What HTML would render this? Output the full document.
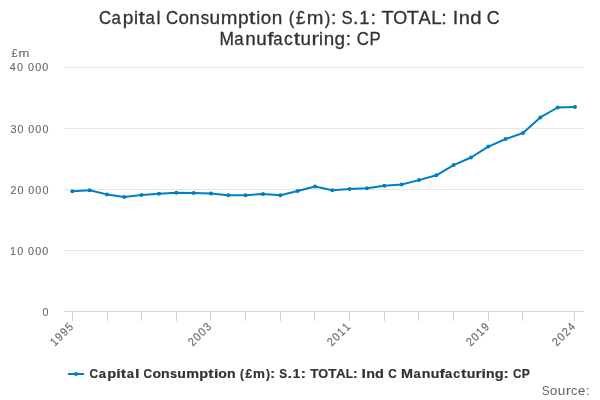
<!DOCTYPE html>
<html>
<head>
<meta charset="utf-8">
<style>
html,body{margin:0;padding:0;background:#fff;width:600px;height:400px;overflow:hidden;}
svg{display:block;font-family:"Liberation Sans",sans-serif;will-change:transform;}
</style>
</head>
<body>
<svg width="600" height="400" viewBox="0 0 600 400">
<g font-size="18.3" fill="#333333" stroke="#333333" stroke-width="0.3"><text transform="translate(99.11 24.0) scale(0.920 1)">C</text><text transform="translate(111.55 24.0) scale(0.920 1)">a</text><text transform="translate(122.64 24.0) scale(1.050 1)">p</text><text transform="translate(133.94 24.0) scale(0.987 1)">i</text><text transform="translate(138.62 24.0) scale(1.250 1)">t</text><text transform="translate(145.42 24.0) scale(0.920 1)">a</text><text transform="translate(156.60 24.0) scale(0.987 1)">l</text></g>
<g font-size="18.3" fill="#333333" stroke="#333333" stroke-width="0.3"><text transform="translate(165.89 24.0) scale(0.920 1)">C</text><text transform="translate(178.40 24.0) scale(1.023 1)">o</text><text transform="translate(189.33 24.0) scale(1.038 1)">n</text><text transform="translate(200.64 24.0) scale(0.923 1)">s</text><text transform="translate(209.60 24.0) scale(1.038 1)">u</text><text transform="translate(220.77 24.0) scale(1.097 1)">m</text><text transform="translate(238.03 24.0) scale(1.047 1)">p</text><text transform="translate(249.06 24.0) scale(1.250 1)">t</text><text transform="translate(256.21 24.0) scale(0.984 1)">i</text><text transform="translate(260.84 24.0) scale(1.023 1)">o</text><text transform="translate(271.77 24.0) scale(1.038 1)">n</text></g>
<g font-size="18.3" fill="#333333" stroke="#333333" stroke-width="0.3"><text transform="translate(288.70 24.0) scale(0.920 1)">(</text><text transform="translate(295.97 24.0) scale(0.920 1)">£</text><text transform="translate(306.84 24.0) scale(1.097 1)">m</text><text transform="translate(324.80 24.0) scale(0.920 1)">)</text><text transform="translate(330.94 24.0) scale(1.042 1)">:</text></g>
<g font-size="18.3" fill="#333333" stroke="#333333" stroke-width="0.3"><text transform="translate(341.56 24.0) scale(0.920 1)">S</text><text transform="translate(352.99 24.0) scale(1.075 1)">.</text><text transform="translate(359.23 24.0) scale(1.000 1)">1</text><text transform="translate(370.53 24.0) scale(1.075 1)">:</text></g>
<g font-size="18.3" fill="#333333" stroke="#333333" stroke-width="0.3"><text transform="translate(381.45 24.0) scale(1.083 1)">T</text><text transform="translate(393.22 24.0) scale(0.981 1)">O</text><text transform="translate(406.85 24.0) scale(1.083 1)">T</text><text transform="translate(418.56 24.0) scale(1.000 1)">A</text><text transform="translate(431.13 24.0) scale(1.021 1)">L</text><text transform="translate(441.33 24.0) scale(1.074 1)">:</text></g>
<g font-size="18.3" fill="#333333" stroke="#333333" stroke-width="0.3"><text transform="translate(452.78 24.0) scale(1.081 1)">I</text><text transform="translate(458.64 24.0) scale(1.102 1)">n</text><text transform="translate(470.31 24.0) scale(1.110 1)">d</text></g>
<g font-size="18.3" fill="#333333" stroke="#333333" stroke-width="0.3"><text transform="translate(486.79 24.0) scale(0.975 1)">C</text></g>
<g font-size="18.3" fill="#333333" stroke="#333333" stroke-width="0.3"><text transform="translate(219.57 45.0) scale(0.949 1)">M</text><text transform="translate(234.35 45.0) scale(0.920 1)">a</text><text transform="translate(245.34 45.0) scale(1.027 1)">n</text><text transform="translate(256.30 45.0) scale(1.027 1)">u</text><text transform="translate(267.16 45.0) scale(1.250 1)">f</text><text transform="translate(273.25 45.0) scale(0.920 1)">a</text><text transform="translate(284.12 45.0) scale(0.955 1)">c</text><text transform="translate(293.65 45.0) scale(1.250 1)">t</text><text transform="translate(300.57 45.0) scale(1.027 1)">u</text><text transform="translate(311.45 45.0) scale(1.220 1)">r</text><text transform="translate(318.97 45.0) scale(0.973 1)">i</text><text transform="translate(323.69 45.0) scale(1.027 1)">n</text><text transform="translate(334.57 45.0) scale(1.035 1)">g</text><text transform="translate(345.78 45.0) scale(1.030 1)">:</text></g>
<g font-size="18.3" fill="#333333" stroke="#333333" stroke-width="0.3"><text transform="translate(356.83 45.0) scale(0.920 1)">C</text><text transform="translate(369.48 45.0) scale(0.920 1)">P</text></g>
<path d="M64 67.5H584M64 128.5H584M64 189.5H584M64 250.5H584" stroke="#e6e6e6" stroke-width="1" fill="none"/>
<path d="M64 311.5H584M72.5 311V321M107.5 311V321M141.5 311V321M176.5 311V321M210.5 311V321M245.5 311V321M280.5 311V321M314.5 311V321M349.5 311V321M384.5 311V321M418.5 311V321M453.5 311V321M488.5 311V321M522.5 311V321M574.5 311V321" stroke="#ccd6eb" stroke-width="1" fill="none"/>
<g font-size="11.7" fill="#666666" stroke="#666666" stroke-width="0.1"><text transform="translate(9.86 70.7) scale(0.920 1)">4</text><text transform="translate(17.08 70.7) scale(0.920 1)">0</text><text transform="translate(27.91 70.7) scale(0.920 1)">0</text><text transform="translate(35.13 70.7) scale(0.920 1)">0</text><text transform="translate(42.35 70.7) scale(0.920 1)">0</text></g>
<g font-size="11.7" fill="#666666" stroke="#666666" stroke-width="0.1"><text transform="translate(10.51 132.7) scale(0.920 1)">3</text><text transform="translate(17.59 132.7) scale(0.920 1)">0</text><text transform="translate(28.22 132.7) scale(0.920 1)">0</text><text transform="translate(35.31 132.7) scale(0.920 1)">0</text><text transform="translate(42.40 132.7) scale(0.920 1)">0</text></g>
<g font-size="11.7" fill="#666666" stroke="#666666" stroke-width="0.1"><text transform="translate(10.38 193.9) scale(0.920 1)">2</text><text transform="translate(17.61 193.9) scale(0.920 1)">0</text><text transform="translate(28.24 193.9) scale(0.920 1)">0</text><text transform="translate(35.32 193.9) scale(0.920 1)">0</text><text transform="translate(42.40 193.9) scale(0.920 1)">0</text></g>
<g font-size="11.7" fill="#666666" stroke="#666666" stroke-width="0.1"><text transform="translate(10.10 254.9) scale(0.920 1)">1</text><text transform="translate(17.31 254.9) scale(0.920 1)">0</text><text transform="translate(28.05 254.9) scale(0.920 1)">0</text><text transform="translate(35.21 254.9) scale(0.920 1)">0</text><text transform="translate(42.37 254.9) scale(0.920 1)">0</text></g>
<g font-size="11.7" fill="#666666" stroke="#666666" stroke-width="0.1"><text transform="translate(42.61 316.0) scale(0.920 1)">0</text></g>
<g font-size="11.7" fill="#666666" stroke="#666666" stroke-width="0.1"><text transform="translate(11.49 57.0) scale(0.927 1)">£</text><text transform="translate(18.52 57.0) scale(1.112 1)">m</text></g>
<g transform="rotate(-45 74.30 327.2)"><g font-size="11.7" fill="#666666" stroke="#666666" stroke-width="0.1"><text transform="translate(46.76 327.2) scale(0.920 1)">1</text><text transform="translate(53.77 327.2) scale(0.920 1)">9</text><text transform="translate(60.77 327.2) scale(0.920 1)">9</text><text transform="translate(67.76 327.2) scale(0.920 1)">5</text></g></g>
<g transform="rotate(-45 212.30 327.2)"><g font-size="11.7" fill="#666666" stroke="#666666" stroke-width="0.1"><text transform="translate(184.66 327.2) scale(0.920 1)">2</text><text transform="translate(191.81 327.2) scale(0.920 1)">0</text><text transform="translate(198.81 327.2) scale(0.920 1)">0</text><text transform="translate(205.82 327.2) scale(0.920 1)">3</text></g></g>
<g transform="rotate(-45 351.30 327.2)"><g font-size="11.7" fill="#666666" stroke="#666666" stroke-width="0.1"><text transform="translate(323.66 327.2) scale(0.920 1)">2</text><text transform="translate(330.81 327.2) scale(0.920 1)">0</text><text transform="translate(337.76 327.2) scale(0.920 1)">1</text><text transform="translate(344.76 327.2) scale(0.920 1)">1</text></g></g>
<g transform="rotate(-45 490.30 327.2)"><g font-size="11.7" fill="#666666" stroke="#666666" stroke-width="0.1"><text transform="translate(462.66 327.2) scale(0.920 1)">2</text><text transform="translate(469.81 327.2) scale(0.920 1)">0</text><text transform="translate(476.76 327.2) scale(0.920 1)">1</text><text transform="translate(483.77 327.2) scale(0.920 1)">9</text></g></g>
<g transform="rotate(-45 576.30 327.2)"><g font-size="11.7" fill="#666666" stroke="#666666" stroke-width="0.1"><text transform="translate(548.66 327.2) scale(0.920 1)">2</text><text transform="translate(555.81 327.2) scale(0.920 1)">0</text><text transform="translate(562.66 327.2) scale(0.920 1)">2</text><text transform="translate(569.80 327.2) scale(0.920 1)">4</text></g></g>
<polyline fill="none" stroke="#007dc3" stroke-width="2" stroke-linejoin="round" stroke-linecap="round" points="72.32,191.3 89.65,190.3 106.98,194.4 124.32,196.9 141.65,195.0 158.98,193.7 176.32,192.8 193.65,192.9 210.98,193.4 228.32,195.3 245.65,195.2 262.98,194.0 280.32,195.2 297.65,191.0 314.98,186.5 332.32,190.2 349.65,189.1 366.98,188.3 384.32,185.8 401.65,184.5 418.98,180.1 436.32,175.3 453.65,165.1 470.98,157.5 488.32,146.6 505.65,139.0 522.98,133.0 540.32,117.4 557.65,107.5 574.98,107.1"/>
<g fill="#007dc3"><circle cx="72.32" cy="191.3" r="2"/><circle cx="89.65" cy="190.3" r="2"/><circle cx="106.98" cy="194.4" r="2"/><circle cx="124.32" cy="196.9" r="2"/><circle cx="141.65" cy="195.0" r="2"/><circle cx="158.98" cy="193.7" r="2"/><circle cx="176.32" cy="192.8" r="2"/><circle cx="193.65" cy="192.9" r="2"/><circle cx="210.98" cy="193.4" r="2"/><circle cx="228.32" cy="195.3" r="2"/><circle cx="245.65" cy="195.2" r="2"/><circle cx="262.98" cy="194.0" r="2"/><circle cx="280.32" cy="195.2" r="2"/><circle cx="297.65" cy="191.0" r="2"/><circle cx="314.98" cy="186.5" r="2"/><circle cx="332.32" cy="190.2" r="2"/><circle cx="349.65" cy="189.1" r="2"/><circle cx="366.98" cy="188.3" r="2"/><circle cx="384.32" cy="185.8" r="2"/><circle cx="401.65" cy="184.5" r="2"/><circle cx="418.98" cy="180.1" r="2"/><circle cx="436.32" cy="175.3" r="2"/><circle cx="453.65" cy="165.1" r="2"/><circle cx="470.98" cy="157.5" r="2"/><circle cx="488.32" cy="146.6" r="2"/><circle cx="505.65" cy="139.0" r="2"/><circle cx="522.98" cy="133.0" r="2"/><circle cx="540.32" cy="117.4" r="2"/><circle cx="557.65" cy="107.5" r="2"/><circle cx="574.98" cy="107.1" r="2"/></g>
<path d="M68 374H84" stroke="#007dc3" stroke-width="2"/>
<circle cx="76" cy="374" r="2" fill="#007dc3"/>
<g font-size="12.8" font-weight="bold" fill="#333333" stroke="#333333" stroke-width="0.2"><text transform="translate(89.61 378.0) scale(0.933 1)">C</text><text transform="translate(98.87 378.0) scale(1.020 1)">a</text><text transform="translate(107.30 378.0) scale(1.145 1)">p</text><text transform="translate(116.16 378.0) scale(1.250 1)">i</text><text transform="translate(120.81 378.0) scale(1.250 1)">t</text><text transform="translate(126.71 378.0) scale(1.020 1)">a</text><text transform="translate(134.98 378.0) scale(1.250 1)">l</text></g>
<g font-size="12.8" font-weight="bold" fill="#333333" stroke="#333333" stroke-width="0.2"><text transform="translate(143.42 378.0) scale(0.923 1)">C</text><text transform="translate(152.41 378.0) scale(1.098 1)">o</text><text transform="translate(161.09 378.0) scale(1.108 1)">n</text><text transform="translate(170.04 378.0) scale(1.006 1)">s</text><text transform="translate(177.35 378.0) scale(1.108 1)">u</text><text transform="translate(186.21 378.0) scale(1.125 1)">m</text><text transform="translate(199.20 378.0) scale(1.133 1)">p</text><text transform="translate(208.28 378.0) scale(1.250 1)">t</text><text transform="translate(213.92 378.0) scale(1.240 1)">i</text><text transform="translate(218.23 378.0) scale(1.098 1)">o</text><text transform="translate(226.92 378.0) scale(1.108 1)">n</text></g>
<g font-size="12.8" font-weight="bold" fill="#333333" stroke="#333333" stroke-width="0.2"><text transform="translate(240.00 378.0) scale(0.934 1)">(</text><text transform="translate(245.49 378.0) scale(0.933 1)">£</text><text transform="translate(253.05 378.0) scale(1.047 1)">m</text><text transform="translate(265.98 378.0) scale(0.934 1)">)</text><text transform="translate(270.26 378.0) scale(1.136 1)">:</text></g>
<g font-size="12.8" font-weight="bold" fill="#333333" stroke="#333333" stroke-width="0.2"><text transform="translate(279.35 378.0) scale(0.920 1)">S</text><text transform="translate(287.84 378.0) scale(1.190 1)">.</text><text transform="translate(292.80 378.0) scale(1.055 1)">1</text><text transform="translate(300.67 378.0) scale(1.197 1)">:</text></g>
<g font-size="12.8" font-weight="bold" fill="#333333" stroke="#333333" stroke-width="0.2"><text transform="translate(310.15 378.0) scale(1.049 1)">T</text><text transform="translate(318.34 378.0) scale(0.992 1)">O</text><text transform="translate(328.18 378.0) scale(1.049 1)">T</text><text transform="translate(336.03 378.0) scale(1.047 1)">A</text><text transform="translate(345.70 378.0) scale(0.928 1)">L</text><text transform="translate(352.81 378.0) scale(1.152 1)">:</text></g>
<g font-size="12.8" font-weight="bold" fill="#333333" stroke="#333333" stroke-width="0.2"><text transform="translate(361.56 378.0) scale(1.250 1)">I</text><text transform="translate(366.23 378.0) scale(1.117 1)">n</text><text transform="translate(375.03 378.0) scale(1.143 1)">d</text></g>
<g font-size="12.8" font-weight="bold" fill="#333333" stroke="#333333" stroke-width="0.2"><text transform="translate(388.22 378.0) scale(0.920 1)">C</text></g>
<g font-size="12.8" font-weight="bold" fill="#333333" stroke="#333333" stroke-width="0.2"><text transform="translate(401.03 378.0) scale(1.130 1)">M</text><text transform="translate(413.42 378.0) scale(1.011 1)">a</text><text transform="translate(421.79 378.0) scale(1.109 1)">n</text><text transform="translate(430.64 378.0) scale(1.109 1)">u</text><text transform="translate(439.49 378.0) scale(1.250 1)">f</text><text transform="translate(445.01 378.0) scale(1.011 1)">a</text><text transform="translate(453.32 378.0) scale(0.964 1)">c</text><text transform="translate(460.91 378.0) scale(1.250 1)">t</text><text transform="translate(466.71 378.0) scale(1.109 1)">u</text><text transform="translate(475.55 378.0) scale(1.250 1)">r</text><text transform="translate(481.57 378.0) scale(1.241 1)">i</text><text transform="translate(486.02 378.0) scale(1.109 1)">n</text><text transform="translate(494.75 378.0) scale(1.137 1)">g</text><text transform="translate(503.60 378.0) scale(1.221 1)">:</text></g>
<g font-size="12.8" font-weight="bold" fill="#333333" stroke="#333333" stroke-width="0.2"><text transform="translate(512.91 378.0) scale(0.920 1)">C</text><text transform="translate(521.74 378.0) scale(0.945 1)">P</text></g>
<g font-size="12.799999999999999" fill="#666666"><text transform="translate(541.83 395.0) scale(0.920 1)">S</text><text transform="translate(549.85 395.0) scale(1.053 1)">o</text><text transform="translate(557.67 395.0) scale(1.068 1)">u</text><text transform="translate(565.64 395.0) scale(1.250 1)">r</text><text transform="translate(570.89 395.0) scale(0.994 1)">c</text><text transform="translate(577.82 395.0) scale(1.070 1)">e</text><text transform="translate(585.74 395.0) scale(1.072 1)">:</text></g>
</svg>
</body>
</html>
